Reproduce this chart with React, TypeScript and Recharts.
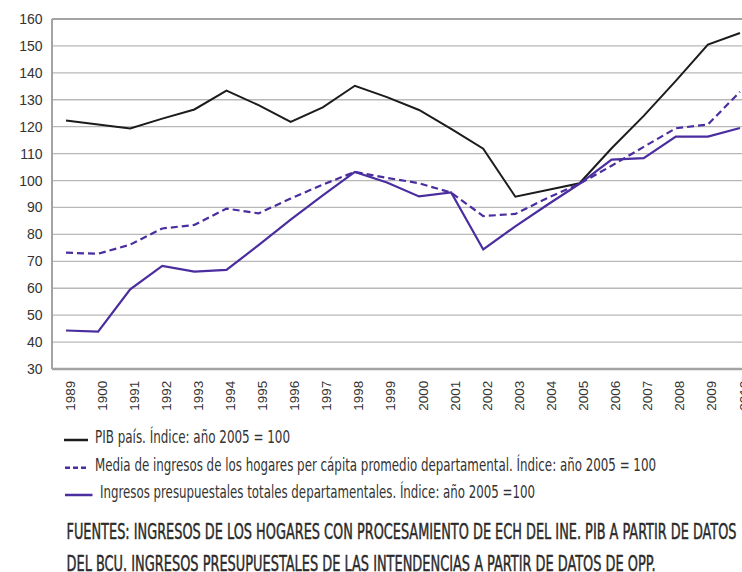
import React from "react";
import { LineChart, Line, XAxis, YAxis, CartesianGrid, ReferenceLine } from "recharts";

const years = ["1989","1900","1991","1992","1993","1994","1995","1996","1997","1998","1999","2000","2001","2002","2003","2004","2005","2006","2007","2008","2009","2010"];
const pib = [122.3,120.8,119.3,123,126.4,133.4,128,121.8,127.2,135.2,131,126.2,119.2,111.8,94,96.5,99,112,124,137,150.5,154.8];
const mediaHogares = [73.2,72.8,76.2,82.2,83.5,89.6,87.8,93.3,98.5,103.2,101,99,95.5,86.8,87.6,93.5,98.8,105.5,112.5,119.4,120.8,133];
const ingresosPresup = [44.3,43.9,59.6,68.3,66.2,66.8,76,85.5,94.5,103.2,99.3,94.1,95.6,74.4,83,91,98.8,107.8,108.3,116.3,116.3,119.5];
const yTicks = [30,40,50,60,70,80,90,100,110,120,130,140,150,160];

const legendItems = [
  "PIB país. Índice: año 2005 = 100",
  "Media de ingresos de los hogares per cápita promedio departamental. Índice: año 2005 = 100",
  "Ingresos presupuestales totales departamentales. Índice: año 2005 =100",
];
const sourceLines = [
  "FUENTES: INGRESOS DE LOS HOGARES CON PROCESAMIENTO DE ECH DEL INE. PIB A PARTIR DE DATOS",
  "DEL BCU. INGRESOS PRESUPUESTALES DE LAS INTENDENCIAS A PARTIR DE DATOS DE OPP.",
];

const data = years.map((y, i) => ({
  year: y,
  pib: pib[i],
  media: mediaHogares[i],
  ingresos: ingresosPresup[i],
}));

const BLACK = "#1c1c1c";
const PURPLE = "#4a2d9e";
const AXIS = "#a3a3a3";
const NARROW = "'Liberation Sans Narrow', 'DejaVu Sans Condensed', 'Liberation Sans', sans-serif";

const XTick = (props: any) => {
  const { x, y, payload } = props;
  return (
    <text
      transform={`translate(${x + 8.5},${y + 11.7}) rotate(-90)`}
      textAnchor="end"
      fontSize={13.5}
      fill="#333"
      fontFamily="'Liberation Sans', sans-serif"
    >
      {payload.value}
    </text>
  );
};

export default function App() {
  return (
    <div style={{ position: "absolute", left: 0, top: 0, width: 742, height: 572, overflow: "hidden", background: "#fff" }}>
      <div style={{ position: "absolute", left: 0, top: 0 }}>
        <LineChart width={760} height={414} data={data} margin={{ top: 19, right: 6, bottom: 0, left: 0 }}>
          <CartesianGrid vertical={false} stroke="#b8b8b8" strokeWidth={1.3} />
          <XAxis
            dataKey="year"
            interval={0}
            padding={{ left: 14, right: 14 }}
            height={45}
            tickLine={false}
            tickSize={0}
            tickMargin={0}
            axisLine={{ stroke: AXIS, strokeWidth: 2.5 }}
            tick={<XTick />}
          />
          <YAxis
            domain={[30, 160]}
            ticks={yTicks}
            width={52}
            tickLine={false}
            tickSize={0}
            tickMargin={9.5}
            axisLine={{ stroke: AXIS, strokeWidth: 2 }}
            tick={{ fontSize: 14, fill: "#333", fontFamily: "'Liberation Sans', sans-serif" }}
          />
          <ReferenceLine y={160} stroke={AXIS} strokeWidth={2} />
          <Line type="linear" dataKey="pib" stroke={BLACK} strokeWidth={2} dot={false} isAnimationActive={false} />
          <Line type="linear" dataKey="media" stroke={PURPLE} strokeWidth={2.2} strokeDasharray="7 4" dot={false} isAnimationActive={false} />
          <Line type="linear" dataKey="ingresos" stroke={PURPLE} strokeWidth={2.2} dot={false} isAnimationActive={false} />
        </LineChart>
      </div>
      <svg width={742} height={572} style={{ position: "absolute", left: 0, top: 0, pointerEvents: "none" }}>
        <line x1={64} x2={88} y1={440} y2={440} stroke={BLACK} strokeWidth={2.5} />
        <line x1={65} x2={89} y1={467.7} y2={467.7} stroke={PURPLE} strokeWidth={2.5} strokeDasharray="5 3" />
        <line x1={65} x2={92.5} y1={495} y2={495} stroke={PURPLE} strokeWidth={2.5} />
        <text x={95} y={442.7} fontSize={17.4} fill="#333" fontFamily={NARROW} textLength={195} lengthAdjust="spacingAndGlyphs">{legendItems[0]}</text>
        <text x={95} y={471} fontSize={17.4} fill="#333" fontFamily={NARROW} textLength={561} lengthAdjust="spacingAndGlyphs">{legendItems[1]}</text>
        <text x={100} y={498.3} fontSize={17.4} fill="#333" fontFamily={NARROW} textLength={435} lengthAdjust="spacingAndGlyphs">{legendItems[2]}</text>
        <text x={66.5} y={539} fontSize={21.5} fill="#2a2a2a" stroke="#2a2a2a" strokeWidth={0.45} fontFamily={NARROW} textLength={670} lengthAdjust="spacingAndGlyphs">{sourceLines[0]}</text>
        <text x={66.5} y={571} fontSize={21.5} fill="#2a2a2a" stroke="#2a2a2a" strokeWidth={0.45} fontFamily={NARROW} textLength={589} lengthAdjust="spacingAndGlyphs">{sourceLines[1]}</text>
      </svg>
    </div>
  );
}
